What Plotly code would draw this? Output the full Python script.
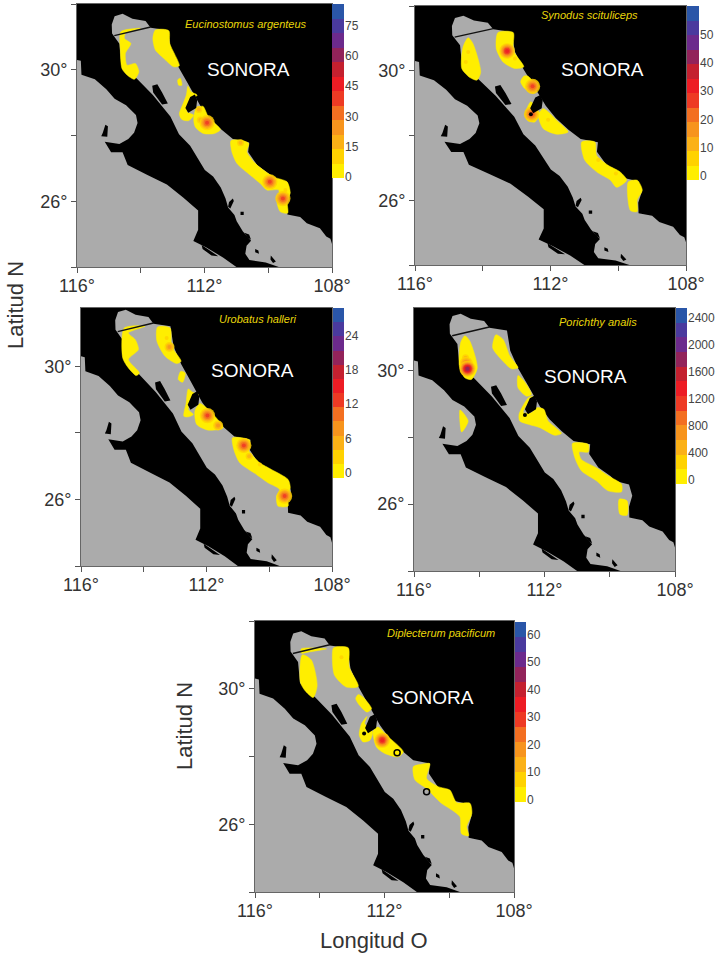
import numpy as np
import plotly.graph_objects as go

SPECIES = ["Eucinostomus argenteus", "Synodus scituliceps", "Urobatus halleri", "Porichthy analis", "Diplecterum pacificum"]
BAR_TICKS = [[0, 15, 30, 45, 60, 75], [0, 10, 20, 30, 40, 50], [0, 6, 12, 18, 24],
             [0, 400, 800, 1200, 1600, 2000, 2400], [0, 10, 20, 30, 40, 50, 60]]
BAR_MAX = [85.7, 60, 28.8, 2540, 64.5]
LON_TICKS = [116, 114, 112, 110, 108]
LAT_TICKS = [32, 30, 28, 26, 24]

PACIFIC = [(116, 30.30), (115.88, 30.27), (115.86, 29.85), (115.44, 29.71), (115.08, 29.41), (114.82, 29.12),
           (114.46, 28.92), (114.15, 28.62), (114.10, 28.38), (114.21, 28.08), (114.39, 27.89), (114.67, 27.74),
           (115.13, 27.81), (114.93, 27.49), (114.57, 27.49), (114.41, 27.10), (113.79, 26.80), (113.18, 26.51),
           (112.66, 26.11), (112.20, 25.72), (112.20, 25.13), (112.35, 24.79), (111.94, 24.59), (111.42, 24.29),
           (111.0, 24.0), (116, 24.0)]
GULF = [(114.90, 31.10), (114.91, 31.38), (114.82, 31.63), (114.57, 31.70), (114.26, 31.55), (113.85, 31.48),
        (113.69, 31.28), (113.15, 31.20), (113.05, 30.59), (112.81, 30.07), (112.54, 29.61), (112.40, 29.36),
        (112.14, 28.92), (111.84, 28.53), (111.47, 28.18), (111.11, 27.89), (110.60, 27.79), (110.63, 27.50),
        (110.35, 27.10), (109.98, 26.84), (109.83, 26.69), (109.41, 26.59), (109.31, 26.25), (109.41, 25.92), (109.40, 25.60),
        (109.00, 25.52), (108.79, 25.33), (108.38, 25.18), (108.18, 24.93), (108.05, 24.86), (108.0, 24.7),
        (108.0, 24.0), (109.67, 24.0), (110.08, 24.14), (110.59, 24.21), (110.72, 24.40), (110.68, 24.65),
        (110.54, 24.80), (110.80, 25.09), (110.99, 25.39), (111.06, 25.58), (111.26, 25.81), (111.34, 26.08),
        (111.49, 26.42), (111.73, 26.75), (111.99, 26.95), (112.25, 27.39), (112.45, 27.69), (112.80, 28.04),
        (113.07, 28.58), (113.62, 29.23), (114.15, 29.76), (114.61, 30.17), (114.67, 30.79)]
ISLANDS = [
    [(113.64, 29.51), (113.48, 29.56), (113.33, 29.31), (113.15, 28.97), (113.33, 28.94), (113.51, 29.19), (113.61, 29.31)],
    [(112.60, 28.84), (112.45, 29.17), (112.30, 29.25), (112.23, 29.08), (112.26, 28.84), (112.51, 28.69)],
    [(115.19, 28.08), (115.11, 28.33), (115.03, 28.28), (115.05, 27.96), (115.24, 27.98)],
    [(111.23, 25.98), (111.11, 26.08), (111.08, 26.01), (111.19, 25.78), (111.26, 25.83)],
    [(110.87, 25.68), (110.77, 25.68), (110.77, 25.58), (110.87, 25.58)],
    [(110.75, 25.04), (110.60, 24.99), (110.54, 24.83), (110.65, 24.90)],
    [(110.41, 24.55), (110.31, 24.50), (110.29, 24.40), (110.41, 24.45)],
    [(109.92, 24.35), (109.76, 24.17), (109.85, 24.12), (109.93, 24.23)],
    [(112.09, 24.67), (111.88, 24.53), (111.57, 24.33), (111.78, 24.35), (112.06, 24.55)],
]
BOUNDARY_LON = [114.83, 113.69]
BOUNDARY_LAT = [31.04, 31.30]

ZONES_1 = [
    [(114.62, 31.16), (114.01, 31.26), (114.48, 31.11), (114.51, 30.95), (114.31, 30.80), (114.48, 30.50), (114.43, 30.14),
     (114.17, 30.19), (114.06, 29.94), (114.20, 29.71), (114.43, 29.84), (114.59, 30.04), (114.64, 30.60)],
    [(113.54, 31.21), (113.12, 31.19), (113.09, 30.80), (112.79, 30.12), (112.97, 30.09), (113.28, 30.35), (113.54, 30.60), (113.62, 30.95)],
    [(112.84, 29.69), (112.76, 29.74), (112.71, 29.53), (112.81, 29.53)],
    [(112.52, 29.50), (112.42, 29.33), (112.23, 29.23), (112.46, 29.03), (112.55, 28.72), (112.34, 28.62), (112.50, 28.45),
     (112.71, 28.49), (112.79, 28.65), (112.67, 28.97), (112.57, 29.23)],
    [(112.34, 28.52), (112.26, 28.82), (112.05, 28.89), (111.87, 28.55), (111.50, 28.18), (111.69, 28.06), (112.03, 28.06), (112.29, 28.26)],
    [(111.17, 27.84), (110.87, 27.86), (110.61, 27.76), (110.67, 27.50), (110.35, 27.10), (109.83, 26.74), (109.41, 26.59), (109.31, 26.25),
     (109.41, 26.03), (109.39, 25.64), (109.62, 25.68), (109.72, 25.93), (109.67, 26.34), (110.04, 26.34), (110.25, 26.54), (110.56, 26.79),
     (110.98, 27.15), (111.14, 27.50)],
]
ZONES_2 = [
    [(114.43, 31.02), (114.29, 30.84), (114.06, 29.96), (114.17, 29.71), (114.38, 29.79), (114.62, 30.07), (114.58, 30.74)],
    [(113.55, 31.18), (113.10, 31.18), (113.10, 30.63), (112.79, 30.12), (113.05, 30.07), (113.40, 30.27), (113.60, 30.68)],
    [(112.79, 29.83), (112.66, 29.83), (112.41, 29.48), (112.49, 29.30), (112.76, 29.45), (112.88, 29.66)],
    [(112.58, 29.04), (112.33, 28.68), (112.46, 28.42), (112.66, 28.45), (112.75, 28.63)],
    [(112.36, 28.63), (112.22, 28.83), (112.07, 28.73), (111.82, 28.47), (111.48, 28.11), (111.82, 28.04), (112.22, 28.22)],
    [(111.08, 27.80), (110.69, 27.80), (110.64, 27.39), (110.30, 27.08), (109.95, 26.88), (109.75, 26.62), (110.05, 26.40), (110.23, 26.62), (110.64, 26.88), (110.99, 27.24)],
    [(109.70, 26.57), (109.44, 26.62), (109.29, 26.31), (109.44, 26.01), (109.44, 25.65), (109.64, 25.68), (109.73, 26.26)],
]
ZONES_3 = [
    [(114.62, 31.15), (113.96, 31.20), (114.49, 31.0), (114.27, 30.80), (114.17, 30.50), (114.49, 30.20), (114.14, 29.80), (114.24, 29.72), (114.49, 29.95), (114.67, 30.25)],
    [(113.56, 31.18), (113.16, 31.15), (113.11, 30.60), (112.81, 30.15), (112.95, 30.08), (113.32, 30.30), (113.58, 30.75)],
    [(112.82, 29.85), (112.68, 29.80), (112.76, 29.52), (112.90, 29.60)],
    [(112.58, 29.32), (112.44, 29.22), (112.26, 29.15), (112.53, 28.90), (112.58, 28.70), (112.42, 28.55), (112.58, 28.48), (112.72, 28.50), (112.65, 28.90)],
    [(112.37, 28.65), (112.21, 28.88), (111.94, 28.70), (111.47, 28.15), (111.94, 28.08), (112.31, 28.25)],
    [(111.17, 27.85), (110.62, 27.78), (110.67, 27.50), (110.30, 27.10), (109.93, 26.90), (109.40, 26.60), (109.33, 26.35), (109.43, 26.10), (109.40, 25.80),
     (109.72, 25.80), (109.77, 26.10), (109.67, 26.30), (110.04, 26.50), (110.41, 26.75), (110.94, 27.10), (111.13, 27.50)],
]
ZONES_4 = [
    [(114.44, 31.04), (114.29, 30.88), (114.06, 30.08), (114.24, 29.73), (114.44, 29.78), (114.61, 30.13), (114.57, 30.83)],
    [(113.49, 31.07), (113.27, 30.93), (113.06, 30.43), (112.81, 30.08), (113.01, 30.05), (113.37, 30.38), (113.59, 30.68)],
    [(112.81, 29.85), (112.60, 29.65), (112.40, 29.28), (112.55, 29.23), (112.81, 29.48)],
    [(112.50, 29.18), (112.35, 29.23), (112.60, 28.89), (112.65, 28.74), (112.40, 28.74), (112.22, 28.89), (112.02, 28.84), (111.89, 28.49), (111.48, 28.12),
     (111.68, 28.06), (112.14, 28.29), (112.50, 28.39), (112.76, 28.49), (112.78, 28.69)],
    [(111.14, 27.82), (110.66, 27.79), (110.66, 27.56), (110.94, 27.56), (110.87, 27.34), (110.41, 27.09), (110.05, 26.85), (109.64, 26.60), (109.64, 26.37),
     (110.05, 26.40), (110.41, 26.70), (110.87, 27.0), (111.07, 27.39)],
    [(109.71, 26.15), (109.47, 26.10), (109.47, 25.67), (109.69, 25.70)],
    [(114.59, 28.82), (114.34, 28.49), (114.54, 28.16)],
]
ZONES_5 = [
    [(114.57, 31.18), (113.79, 31.18), (114.36, 31.08), (114.57, 31.05)],
    [(114.54, 31.0), (114.26, 30.85), (114.08, 30.10), (114.20, 29.74), (114.46, 29.95), (114.60, 30.20)],
    [(113.57, 31.21), (113.12, 31.21), (113.09, 30.64), (112.81, 30.07), (113.18, 30.05), (113.54, 30.39), (113.61, 30.85)],
    [(112.81, 29.83), (112.66, 29.75), (112.40, 29.41), (112.54, 29.31), (112.81, 29.56), (112.89, 29.71)],
    [(112.54, 29.18), (112.61, 28.97), (112.37, 28.73), (112.45, 28.48), (112.66, 28.43), (112.78, 28.63), (112.71, 28.97)],
    [(112.35, 28.75), (112.20, 28.87), (111.94, 28.63), (111.42, 28.14), (111.58, 27.99), (111.99, 28.09), (112.25, 28.28)],
    [(111.11, 27.70), (110.86, 27.77), (110.60, 27.79), (110.70, 27.35), (110.34, 27.11), (109.98, 27.01), (109.77, 26.64), (109.36, 26.62), (109.30, 26.32),
     (109.46, 25.93), (109.40, 25.66), (109.62, 25.72), (109.67, 26.22), (109.98, 26.46), (110.23, 26.61), (110.70, 27.05), (111.06, 27.31)],
]
ZONES = [ZONES_1, ZONES_2, ZONES_3, ZONES_4, ZONES_5]

HOT_1 = [(112.18, 28.79, 15), (112.13, 28.47, 20), (111.92, 28.39, 38), (110.87, 27.78, 18), (109.95, 26.59, 42), (109.46, 26.34, 12), (109.54, 26.08, 40)]
HOT_2 = [(113.28, 30.61, 32), (113.05, 30.38, 8), (112.53, 29.52, 28), (112.56, 28.66, 25), (112.07, 28.49, 8), (110.59, 27.24, 5.5), (110.07, 26.83, 5.5), (114.43, 30.58, 5.5), (114.50, 30.27, 5.5)]
HOT_3 = [(113.27, 30.85, 4), (113.18, 30.58, 8), (111.97, 28.52, 14), (111.63, 28.22, 8), (110.81, 27.62, 13), (110.64, 27.30, 6), (110.30, 27.05, 3), (109.51, 26.10, 13)]
HOT_4 = [(114.42, 30.38, 500), (114.40, 30.22, 1000), (114.36, 30.05, 1900)]
HOT_5 = [(112.07, 28.48, 35), (113.33, 30.93, 6)]
HOTS = [HOT_1, HOT_2, HOT_3, HOT_4, HOT_5]

DOTS = [[], [(112.58, 28.66)], [], [(112.60, 28.67)], [(112.63, 28.68)]]
RINGS = [[], [], [], [], [(111.61, 28.11), (110.70, 26.96)]]

BANDS = ["#FFEE00", "#FFD200", "#FBB116", "#F7941D", "#F36F21", "#EE3A24", "#ED1C24", "#C4202F", "#92235A", "#6C2A8C", "#4A3A9E", "#2A56A8"]

# panel placement in page pixels: map x0, x1, y0, y1, then colour bar x0, x1, y0, y1
BOX = [(77, 332, 4, 267, 332, 344, 4, 178),
       (415, 686, 6, 265, 687, 699, 6, 180),
       (81, 332, 308, 566, 333, 344, 308, 478),
       (414, 675, 308, 571, 676, 687, 308, 484),
       (255, 514, 621, 892, 515, 526, 622, 802)]
LAT_TOP = [32.0, 32.0, 31.75, 31.87, 32.0]
BAR_BOTTOM = [-0.5, -1.4, -0.9, -60, -0.8]
SONORA_PX = [(248, 70), (602, 69), (252, 371), (585, 377), (432, 697)]
SPECIES_PX = [(246, 24), (589, 15), (258, 319), (598, 322), (441, 633)]
W, H = 716, 955
FONT = "Liberation Sans, Arial, sans-serif"


def poly(points):
    return [p[0] for p in points], [p[1] for p in points]


def merged(polys):
    xs, ys = [], []
    for p in polys:
        a, b = poly(p + [p[0]])
        xs += a + [None]
        ys += b + [None]
    return xs, ys


fig = go.Figure()
layout = {}
axis_font = dict(family=FONT, size=18, color="#333333")
annotations = []

for i, box in enumerate(BOX):
    n = i + 1
    bar_n = i + 6
    ref = "" if n == 1 else str(n)
    xa, ya = f"x{ref}", f"y{ref}"
    xb, yb = f"x{bar_n}", f"y{bar_n}"

    for group in (PACIFIC, GULF):
        gx, gy = poly(group + [group[0]])
        fig.add_trace(go.Scatter(x=gx, y=gy, mode="lines", fill="toself", fillcolor="#ABABAB",
                                 line=dict(width=0, color="#ABABAB"), xaxis=xa, yaxis=ya, hoverinfo="skip", showlegend=False))
    for zone in ZONES[i]:
        zx, zy = poly(zone + [zone[0]])
        fig.add_trace(go.Scatter(x=zx, y=zy, mode="lines", fill="toself", fillcolor=BANDS[0],
                                 line=dict(width=0.5, color=BANDS[0], shape="spline", smoothing=0.7),
                                 xaxis=xa, yaxis=ya, hoverinfo="skip", showlegend=False))
    band_size = BAR_MAX[i] / len(BANDS)
    for lon, lat, val in HOTS[i]:
        top = int(val / band_size)
        step = min(3.0, 14.0 / max(top, 1))
        for k in range(1, top + 1):
            fig.add_trace(go.Scatter(x=[lon], y=[lat], mode="markers",
                                     marker=dict(size=4 + step * (top - k), color=BANDS[k], line=dict(width=0), opacity=0.85),
                                     xaxis=xa, yaxis=ya, hoverinfo="skip", showlegend=False))
    ix, iy = merged(ISLANDS)
    fig.add_trace(go.Scatter(x=ix, y=iy, mode="lines", fill="toself", fillcolor="#000000",
                             line=dict(width=0, color="#000000"), xaxis=xa, yaxis=ya, hoverinfo="skip", showlegend=False))
    fig.add_trace(go.Scatter(x=BOUNDARY_LON, y=BOUNDARY_LAT, mode="lines", line=dict(width=1.4, color="#111111"),
                             xaxis=xa, yaxis=ya, hoverinfo="skip", showlegend=False))
    if DOTS[i]:
        dx, dy = poly(DOTS[i])
        fig.add_trace(go.Scatter(x=dx, y=dy, mode="markers", marker=dict(size=4, color="#000000"),
                                 xaxis=xa, yaxis=ya, hoverinfo="skip", showlegend=False))
    if RINGS[i]:
        dx, dy = poly(RINGS[i])
        fig.add_trace(go.Scatter(x=dx, y=dy, mode="markers",
                                 marker=dict(size=6, symbol="circle-open", color="#000000", line=dict(width=1.5, color="#000000")),
                                 xaxis=xa, yaxis=ya, hoverinfo="skip", showlegend=False))

    x0, x1, y0, y1, bx0, bx1, by0, by1 = box
    layout[f"xaxis{ref}"] = dict(domain=[x0 / W, x1 / W], range=[116, 108], anchor=ya, tickvals=LON_TICKS,
                                 ticktext=[f"{v}°" if v in (116, 112, 108) else "" for v in LON_TICKS],
                                 ticks="outside", ticklen=5, tickcolor="#555555", tickwidth=1, showgrid=False, zeroline=False,
                                 showline=True, linecolor="#666666", linewidth=1, mirror=True, tickfont=axis_font, tickangle=0,
                                 automargin=False, ticklabelstandoff=-3)
    layout[f"yaxis{ref}"] = dict(domain=[1 - y1 / H, 1 - y0 / H], range=[24, LAT_TOP[i]], anchor=xa, tickvals=LAT_TICKS,
                                 ticktext=[f"{v}°" if v in (30, 26) else "" for v in LAT_TICKS],
                                 ticks="outside", ticklen=5, tickcolor="#555555", tickwidth=1, showgrid=False, zeroline=False,
                                 showline=True, linecolor="#666666", linewidth=1, mirror=True, tickfont=axis_font,
                                 automargin=False)
    layout[f"xaxis{bar_n}"] = dict(domain=[bx0 / W, bx1 / W], range=[-0.5, 0.5], anchor=yb, visible=False, automargin=False)
    top_value = BAR_MAX[i]
    edges = np.linspace(BAR_BOTTOM[i], top_value, len(BANDS) + 1)
    fig.add_trace(go.Heatmap(x=[0], y=edges, z=[[b] for b in range(len(BANDS))], zmin=0, zmax=len(BANDS) - 1,
                             colorscale=[[j / (len(BANDS) - 1), c] for j, c in enumerate(BANDS)], showscale=False,
                             xaxis=xb, yaxis=yb, hoverinfo="skip"))
    layout[f"yaxis{bar_n}"] = dict(domain=[1 - by1 / H, 1 - by0 / H], range=[BAR_BOTTOM[i], top_value], anchor=xb, side="right",
                                   tickvals=BAR_TICKS[i], ticks="", showgrid=False, zeroline=False, showline=False, ticklen=0,
                                   tickfont=dict(family=FONT, size=12, color="#444444"), automargin=False)
    annotations.append(dict(x=SONORA_PX[i][0] / W, y=1 - SONORA_PX[i][1] / H, xref="paper", yref="paper", text="SONORA", showarrow=False,
                            xanchor="center", yanchor="middle", font=dict(family=FONT, size=19, color="#FFFFFF")))
    annotations.append(dict(x=SPECIES_PX[i][0] / W, y=1 - SPECIES_PX[i][1] / H, xref="paper", yref="paper", text=f"<i>{SPECIES[i]}</i>", showarrow=False,
                            xanchor="center", yanchor="middle", font=dict(family=FONT, size=11, color="#E9D60A")))

title_font = dict(family=FONT, size=22, color="#333333")
for x, y, text, angle in [(15, 305, "Latitud N", -90), (184, 726, "Latitud N", -90), (374, 940, "Longitud O", 0)]:
    annotations.append(dict(x=x / W, y=1 - y / H, xref="paper", yref="paper", text=text, textangle=angle,
                            showarrow=False, font=title_font, xanchor="center", yanchor="middle"))

fig.update_layout(width=W, height=H, autosize=False, margin=dict(l=0, r=0, t=0, b=0, autoexpand=False), paper_bgcolor="#FFFFFF",
                  plot_bgcolor="#000000", showlegend=False, annotations=annotations, **layout)
fig.write_html("out.html", config=dict(displayModeBar=False),
               post_script="document.body.style.margin='0';document.documentElement.style.overflow='hidden';")
